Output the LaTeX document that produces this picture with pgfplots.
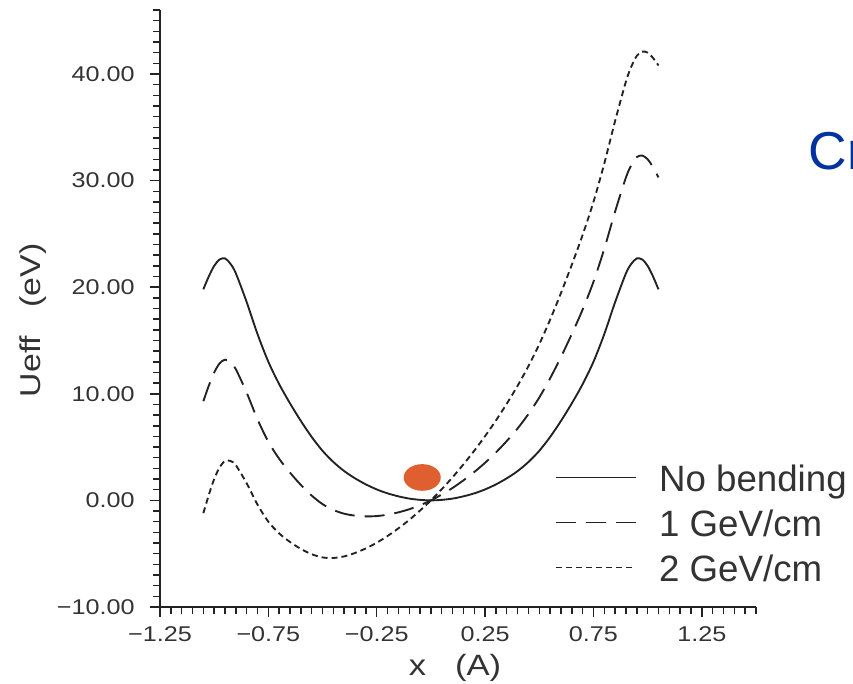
\documentclass[border=0pt]{standalone}
\usepackage{fontspec}
\setmainfont{Liberation Sans}
\newfontfamily\widefont[FakeStretch=1.18]{Liberation Sans}
\usepackage{pgfplots}
\usepackage{pgfplotstable}
\pgfplotsset{compat=1.18}

\definecolor{ink}{HTML}{222222}
\definecolor{txt}{HTML}{333333}
\definecolor{spot}{HTML}{E05F30}
\definecolor{crblue}{HTML}{0033A0}

% x, no bending, 1 GeV/cm, 2 GeV/cm
\pgfplotstableread{
x      s      d      t
-1.05  19.80  9.30  -1.20
-1.025 21.00 10.75   0.50
-1.00  22.00 12.00   2.00
-0.975 22.60 12.85   3.10
-0.95  22.70 13.20   3.70
-0.925 22.20 12.95   3.70
-0.90  21.30 12.30   3.30
-0.85  18.60 10.10   1.60
-0.80  15.60  7.60  -0.40
-0.75  13.00  5.50  -2.00
-0.70  10.90  3.90  -3.10
-0.65   9.10  2.60  -3.90
-0.60   7.45  1.45  -4.55
-0.55   5.95  0.45  -5.05
-0.50   4.65 -0.35  -5.35
-0.45   3.60 -0.90  -5.40
-0.40   2.75 -1.25  -5.25
-0.35   2.07 -1.43  -4.93
-0.30   1.50 -1.50  -4.50
-0.25   1.03 -1.47  -3.97
-0.20   0.66 -1.34  -3.34
-0.15   0.38 -1.12  -2.62
-0.10   0.17 -0.83  -1.83
-0.05   0.05 -0.45  -0.95
0.00    0.00  0.00   0.00
0.05    0.05  0.55   1.05
0.10    0.17  1.17   2.17
0.15    0.38  1.88   3.38
0.20    0.66  2.66   4.66
0.25    1.03  3.53   6.03
0.30    1.50  4.50   7.50
0.35    2.07  5.57   9.07
0.40    2.75  6.75  10.75
0.45    3.60  8.10  12.60
0.50    4.65  9.65  14.65
0.55    5.95 11.45  16.95
0.60    7.45 13.45  19.45
0.65    9.10 15.60  22.10
0.70   10.90 17.90  24.90
0.75   13.00 20.50  28.00
0.80   15.60 23.60  31.60
0.85   18.60 27.10  35.60
0.90   21.30 30.30  39.30
0.925  22.20 31.45  40.70
0.95   22.70 32.20  41.70
0.975  22.60 32.35  42.10
1.00   22.00 32.00  42.00
1.025  21.00 31.25  41.50
1.05   19.80 30.30  40.80
}\curves

\begin{document}
\begin{tikzpicture}
\begin{axis}[
  name=ax,
  scale only axis,
  width=447pt, height=447.75pt,
  xmin=-1.25, xmax=1.5,
  ymin=-10, ymax=46,
  axis x line=bottom, axis y line=left,
  axis line style={-, line width=1.5pt, ink},
  tick align=outside,
  major tick length=7.5pt, minor tick length=5pt,
  every tick/.style={line width=1.1pt, ink},
  xtick={-1.25,-0.75,-0.25,0.25,0.75,1.25},
  xticklabels={−1.25,−0.75,−0.25,0.25,0.75,1.25},
  minor xtick={-1.25,-1.2,...,1.51},
  ytick={-10,0,10,20,30,40},
  yticklabels={−10.00,0.00,10.00,20.00,30.00,40.00},
  minor ytick={-10,-9,...,46},
  ticklabel style={font=\widefont\fontsize{16}{19}\selectfont, text=txt},
  xticklabel style={yshift=-3.5pt},
  yticklabel style={xshift=-8pt},
  xlabel={x\ \ \ (A)},
  ylabel={Ueff\ \ \ (eV)},
  every axis x label/.style={at={(axis description cs:0.495,-0.102)}, anchor=center,
    font=\widefont\fontsize{22}{26}\selectfont, text=txt},
  every axis y label/.style={at={(axis description cs:-0.213,0.48)}, anchor=center, rotate=90,
    font=\widefont\fontsize{21.5}{26}\selectfont, text=txt},
  clip=false,
  legend image code/.code={\coordinate (lgA) at (0pt,-1pt); \draw[#1] (0pt,3.5pt) -- (60pt,3.5pt);},
  legend style={draw=none, fill=none, inner sep=0pt,
    at={(axis description cs:0.6628,0.2385)}, anchor=north west,
    font=\fontsize{27.5}{33}\selectfont, text=txt,
    nodes={inner sep=0pt, text height=20pt, text depth=6pt},
    row sep=7.75pt,
    /tikz/every odd column/.append style={column sep=16.5pt}},
  legend cell align=left,
]
\addplot[ink, line width=1.4pt, smooth] table[x=x, y=s] {\curves};
\addlegendentry{No bending}
\addplot[ink, line width=1.4pt, smooth, dash pattern=on 15pt off 7.5pt] table[x=x, y=d] {\curves};
\addlegendentry{1 GeV/cm}
\addplot[ink, line width=1.4pt, smooth, dash pattern=on 4.5pt off 3pt] table[x=x, y=t] {\curves};
\addlegendentry{2 GeV/cm}
\fill[spot] (axis cs:-0.04,2.15) ellipse [x radius=13.9pt, y radius=10pt];
\end{axis}
\node[anchor=base west, inner sep=0pt, text=crblue, font=\fontsize{40}{48}\selectfont]
  at ([shift={(486.5pt,327.75pt)}]ax.south west) {Cr};
\pgfresetboundingbox
\path[use as bounding box] ([shift={(-120pt,-57pt)}]ax.south west) rectangle ++(639.75pt,512.25pt);
\end{tikzpicture}
\end{document}
